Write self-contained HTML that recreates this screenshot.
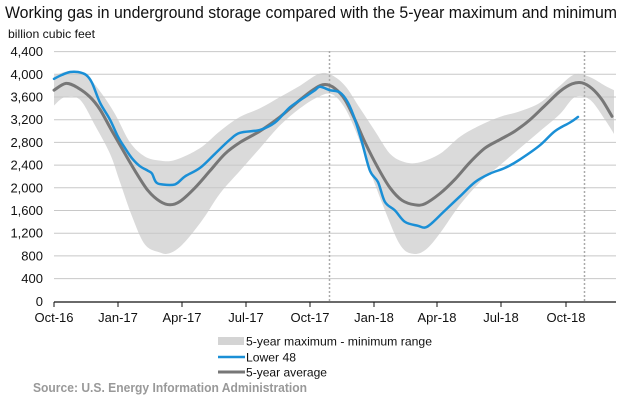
<!DOCTYPE html>
<html><head><meta charset="utf-8"><style>
body{margin:0;background:#fff;}
svg{display:block;font-family:"Liberation Sans",Arial,sans-serif;}
</style></head><body>
<svg id="s" width="622" height="402" viewBox="0 0 622 402" xmlns="http://www.w3.org/2000/svg">
<text x="5" y="18" font-size="16.5" fill="#111" textLength="612" lengthAdjust="spacingAndGlyphs">Working gas in underground  storage compared with the 5-year maximum and minimum</text>
<text x="8" y="38" font-size="12" fill="#111" textLength="87" lengthAdjust="spacingAndGlyphs">billion cubic feet</text>
<path id="band" fill="#dadada" stroke="none"/>
<g id="grid" stroke="#c8c8c8" stroke-width="1"></g>
<g id="ylab" font-size="13" fill="#111" text-anchor="end"></g>
<line x1="329.5" y1="51" x2="329.5" y2="302" stroke="#aaa" stroke-width="1.5" stroke-dasharray="2,2"/>
<line x1="584.5" y1="51" x2="584.5" y2="302" stroke="#aaa" stroke-width="1.5" stroke-dasharray="2,2"/>
<path id="avg" fill="none" stroke="#777" stroke-width="3" stroke-linejoin="round" stroke-linecap="round"/>
<path id="l48" fill="none" stroke="#1a8fd6" stroke-width="2.5" stroke-linejoin="round" stroke-linecap="round"/>
<line x1="54" y1="302" x2="616" y2="302" stroke="#111" stroke-width="1.2"/>
<g id="xt" stroke="#111" stroke-width="1"></g>
<g id="xl" font-size="13" fill="#111" text-anchor="middle"></g>
<rect x="218" y="337" width="26" height="8" fill="#d4d4d4"/>
<text x="246" y="345.5" font-size="12" fill="#111" textLength="186" lengthAdjust="spacingAndGlyphs">5-year maximum - minimum range</text>
<line x1="218" y1="357" x2="245" y2="357" stroke="#1a8fd6" stroke-width="2.5"/>
<text x="246" y="361.5" font-size="12" fill="#111" textLength="50" lengthAdjust="spacingAndGlyphs">Lower 48</text>
<line x1="218" y1="372" x2="245" y2="372" stroke="#777" stroke-width="3"/>
<text x="246" y="376.5" font-size="12" fill="#111" textLength="81" lengthAdjust="spacingAndGlyphs">5-year average</text>
<text x="33" y="392" font-size="12.5" font-weight="bold" fill="#999" textLength="274" lengthAdjust="spacingAndGlyphs">Source:  U.S. Energy Information Administration</text>
</svg>
<script>
var NS="http://www.w3.org/2000/svg";
function Y(v){return 301.3-v*0.05675;}
function el(p,t,a,txt){var e=document.createElementNS(NS,t);for(var k in a)e.setAttribute(k,a[k]);if(txt)e.textContent=txt;document.getElementById(p).appendChild(e);}
for(var i=1;i<=11;i++){var y=Y(i*400);el("grid","line",{x1:54,x2:616,y1:y,y2:y});}
for(var i=0;i<=11;i++){var v=i*400;el("ylab","text",{x:43,y:Y(v)+4.5},v>=1000?Math.floor(v/1000)+","+String(v%1000).padStart(3,"0"):String(v));}
var tx=[54,118,182,246,310,374,437,501,566],lb=["Oct-16","Jan-17","Apr-17","Jul-17","Oct-17","Jan-18","Apr-18","Jul-18","Oct-18"];
tx.forEach(function(x,i){el("xt","line",{x1:x,x2:x,y1:302,y2:307});el("xl","text",{x:x,y:322},lb[i]);});
function smooth(pts){var d="M"+pts[0][0]+","+Y(pts[0][1]);for(var i=0;i<pts.length-1;i++){var p0=pts[i-1]||pts[i],p1=pts[i],p2=pts[i+1],p3=pts[i+2]||p2;
var c1x=p1[0]+(p2[0]-p0[0])/6,c1y=Y(p1[1])+(Y(p2[1])-Y(p0[1]))/6,c2x=p2[0]-(p3[0]-p1[0])/6,c2y=Y(p2[1])-(Y(p3[1])-Y(p1[1]))/6;
d+=" C"+c1x.toFixed(1)+","+c1y.toFixed(1)+" "+c2x.toFixed(1)+","+c2y.toFixed(1)+" "+p2[0]+","+Y(p2[1]).toFixed(1);}return d;}
var l48=[[54,3920],[62,3990],[70,4040],[78,4040],[86,3990],[92,3850],[100,3500],[110,3200],[118,2900],[125,2700],[132,2520],[140,2380],[148,2300],[152,2250],[156,2100],[162,2060],[175,2060],[185,2200],[200,2350],[215,2600],[230,2850],[240,2970],[260,3020],[275,3150],[290,3420],[305,3600],[315,3720],[320,3780],[330,3720],[340,3680],[348,3500],[355,3200],[362,2800],[370,2300],[378,2100],[385,1750],[395,1600],[405,1400],[418,1330],[425,1300],[432,1380],[445,1600],[460,1850],[475,2100],[490,2250],[505,2350],[520,2500],[540,2750],[555,3000],[570,3150],[578,3250]];
var avg=[[54,3720],[66,3840],[78,3760],[90,3600],[100,3380],[112,3000],[125,2600],[135,2300],[148,1950],[160,1760],[170,1700],[180,1760],[195,2000],[210,2300],[225,2600],[240,2800],[260,3000],[280,3250],[300,3550],[315,3750],[325,3820],[335,3750],[345,3550],[355,3200],[365,2800],[378,2350],[390,2000],[402,1780],[415,1700],[425,1720],[440,1900],[455,2150],[470,2450],[485,2700],[500,2850],[515,3000],[530,3200],[545,3450],[560,3700],[572,3830],[582,3850],[592,3750],[602,3550],[612,3260]];
var up=[[54,3980],[70,4060],[85,4000],[100,3700],[115,3300],[130,2800],[145,2550],[160,2480],[175,2490],[200,2700],[220,3000],[240,3250],[260,3400],[280,3600],[300,3800],[318,4000],[330,4000],[345,3800],[360,3400],[375,3000],[390,2600],[405,2450],[420,2450],[440,2600],[460,2900],[480,3100],[500,3250],[520,3350],[540,3500],[560,3800],[575,4000],[590,3950],[605,3800],[614,3720]];
var lo=[[54,3450],[65,3600],[80,3550],[95,3100],[110,2600],[120,2100],[132,1500],[145,1000],[160,860],[168,840],[178,930],[190,1150],[205,1500],[220,1900],[240,2300],[260,2700],[280,3100],[300,3400],[318,3600],[332,3650],[345,3400],[358,2900],[370,2300],[385,1600],[400,1000],[412,840],[425,900],[440,1200],[460,1700],[480,2100],[500,2400],[520,2700],[540,3000],[560,3300],[575,3600],[590,3550],[605,3200],[614,2950]];
var bd=smooth(up)+" L"+smooth(lo.slice().reverse()).slice(1)+" Z";
document.getElementById("band").setAttribute("d",bd);
document.getElementById("avg").setAttribute("d",smooth(avg));
document.getElementById("l48").setAttribute("d",smooth(l48));
</script>
</body></html>
